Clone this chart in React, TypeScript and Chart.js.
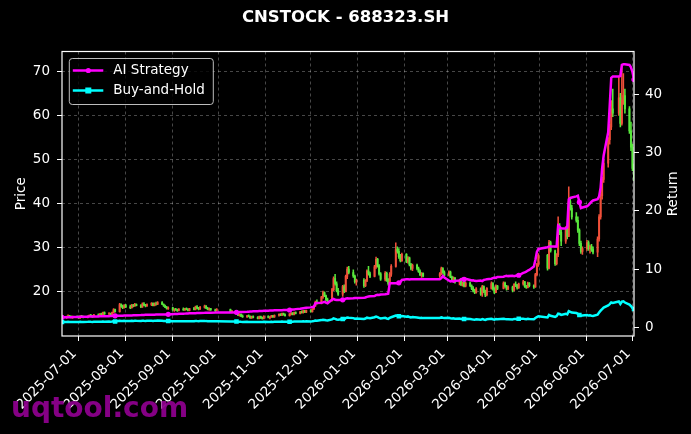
import React, { useEffect, useRef } from "react";
import { Chart, registerables } from "chart.js";

Chart.register(...registerables);

const TITLE = "CNSTOCK - 688323.SH";
const START_DATE = "2025-06-20";
const END_DATE = "2026-07-02";
const HOLIDAYS = [
  "2025-10-01", "2025-10-02", "2025-10-03", "2025-10-06", "2025-10-07", "2025-10-08",
  "2026-01-01", "2026-01-02",
  "2026-02-16", "2026-02-17", "2026-02-18", "2026-02-19", "2026-02-20", "2026-02-23",
  "2026-04-06", "2026-05-01", "2026-05-04", "2026-05-05", "2026-06-19",
];
const MONTH_TICKS = [
  "2025-07-01", "2025-08-01", "2025-09-01", "2025-10-01", "2025-11-01", "2025-12-01",
  "2026-01-01", "2026-02-01", "2026-03-01", "2026-04-01", "2026-05-01", "2026-06-01", "2026-07-01",
];
const PRICE_TICKS = [20, 30, 40, 50, 60, 70];
const RETURN_TICKS = [0, 10, 20, 30, 40];

// daily OHLC, one row per week
const OPEN = [
  14.0,
  14.2, 14.3, 14.6, 14.4, 14.2,
  14.4, 14.3, 14.1, 14.5, 14.4,
  14.2, 14.5, 14.7, 14.5, 14.4,
  14.8, 14.6, 15.0, 14.8, 15.3,
  15.0, 15.1, 14.9, 15.3, 16.0,
  15.5, 17.1, 16.7, 16.4, 16.9,
  16.6, 16.4, 17.0, 16.8, 17.2,
  16.9, 16.6, 17.3, 17.0, 16.8,
  17.1, 17.4, 16.9, 17.3, 17.2,
  17.6, 17.2, 16.8, 16.5, 16.2,
  16.4, 15.9, 16.0, 15.9, 15.8,
  16.1, 15.9, 16.2, 16.0, 15.8,
  16.2, 16.0, 16.6, 16.3, 16.1,
  16.5, 16.8, 16.3, 16.0, 16.2,
  15.9, 15.8,
  16.0, 15.5,
  15.6, 15.1, 14.7, 14.9, 14.5,
  14.3, 14.6, 14.4, 14.1, 14.4,
  14.2, 14.0, 14.4, 14.1, 14.0,
  14.5, 14.2, 14.3, 14.6, 14.3,
  14.7, 14.9, 14.7, 15.1, 14.8,
  14.6, 15.0, 15.2, 14.9, 15.3,
  15.1, 15.5, 15.3, 15.7, 15.4,
  15.8, 15.5, 16.1, 16.8, 17.7,
  17.4, 18.8, 19.8, 19.1, 18.2,
  18.0, 20.5, 23.0, 21.8, 20.3,
  19.5, 21.2, 20.1, 23.5, 25.2,
  24.4, 23.6, 22.3,
  22.6, 21.4, 22.5, 24.7, 24.1,
  23.5, 25.7, 27.4, 25.9, 24.1,
  22.9, 24.2, 22.7, 21.9, 24.0,
  25.8, 29.6, 29.2, 28.0, 27.1,
  28.5, 26.9, 27.7, 26.2, 25.3,
  26.0, 25.3, 24.6, 23.9, 24.2,
  23.6, 24.1, 25.3, 24.4,
  23.8, 24.5, 23.4, 22.6, 23.1,
  22.2, 22.5, 21.7, 22.1, 21.3,
  22.0, 21.4, 20.8, 20.3, 19.9,
  20.7, 19.5, 21.2, 20.1, 19.3,
  20.8, 21.9, 20.7, 19.9, 21.3,
  20.8, 22.0, 21.3, 20.7,
  21.1, 20.4, 21.7, 21.5, 20.9,
  21.8, 22.3, 21.2, 21.0, 22.0,
  21.4, 21.1, 23.9, 26.2,
  28.3, 25.4, 31.2,
  29.3, 26.4, 28.4, 34.5, 33.5,
  31.5, 34.3, 32.6, 40.5, 39.0,
  37.0, 36.2, 34.0, 31.0, 29.2,
  29.8, 31.2, 29.8, 30.3, 29.6,
  29.0, 32.0, 37.0, 41.8, 45.5,
  49.2, 54.5, 57.4, 61.5,
  60.5, 64.0, 58.2, 63.5, 64.5,
  61.5, 56.5, 52.8, 48.0,
];
const HIGH = [
  14.4,
  14.5, 14.8, 14.7, 14.6, 14.5,
  14.6, 14.5, 14.6, 14.7, 14.5,
  14.6, 14.8, 14.9, 14.7, 14.9,
  15.0, 15.1, 15.2, 15.4, 15.5,
  15.3, 15.2, 15.4, 16.2, 16.1,
  17.4, 17.3, 17.0, 17.1, 17.2,
  17.0, 17.2, 17.2, 17.4, 17.3,
  17.1, 17.5, 17.6, 17.2, 17.3,
  17.6, 17.5, 17.5, 17.7, 17.8,
  17.8, 17.3, 17.0, 16.7, 16.6,
  16.5, 16.2, 16.3, 16.1, 16.2,
  16.4, 16.3, 16.4, 16.2, 16.3,
  16.5, 16.8, 16.9, 16.5, 16.7,
  17.0, 16.9, 16.5, 16.4, 16.3,
  16.1, 16.2,
  16.1, 15.8,
  15.7, 15.3, 15.1, 15.0, 14.8,
  14.7, 14.8, 14.6, 14.5, 14.6,
  14.4, 14.5, 14.5, 14.3, 14.6,
  14.6, 14.4, 14.7, 14.7, 14.8,
  15.0, 15.1, 15.2, 15.2, 15.0,
  15.1, 15.3, 15.3, 15.4, 15.5,
  15.6, 15.7, 15.8, 15.8, 15.9,
  16.0, 16.2, 16.9, 17.9, 18.2,
  19.0, 20.2, 20.0, 19.3, 18.6,
  20.8, 23.4, 24.0, 22.3, 20.8,
  21.5, 21.6, 23.8, 25.6, 25.8,
  25.0, 23.8, 22.9,
  23.0, 22.8, 25.0, 25.8, 24.5,
  26.0, 27.9, 27.6, 26.2, 24.4,
  24.6, 24.5, 23.0, 24.4, 26.2,
  31.1, 30.2, 29.8, 28.5, 28.8,
  28.7, 28.0, 27.9, 26.5, 26.3,
  26.3, 25.6, 25.0, 24.4, 24.3,
  24.4, 25.6, 25.5, 24.8,
  24.8, 24.7, 23.6, 23.4, 23.3,
  22.8, 22.7, 22.3, 22.4, 22.3,
  22.3, 21.6, 21.2, 20.6, 21.0,
  20.9, 21.5, 21.4, 20.4, 21.0,
  22.3, 22.1, 21.0, 21.6, 21.5,
  22.3, 22.2, 21.5, 21.4,
  21.3, 21.9, 22.3, 21.7, 22.0,
  22.6, 22.4, 21.5, 22.2, 22.1,
  21.6, 24.2, 26.5, 28.7,
  28.5, 31.7, 31.5,
  29.5, 28.7, 37.0, 35.5, 34.0,
  34.8, 35.0, 43.8, 41.5, 39.6,
  38.0, 37.0, 34.3, 31.5, 30.2,
  31.7, 31.6, 30.6, 30.8, 30.2,
  32.5, 37.5, 42.3, 46.0, 49.8,
  55.0, 58.0, 63.4, 66.0,
  68.7, 65.0, 71.3, 69.5, 66.0,
  62.0, 58.5, 53.5, 49.0,
];
const LOW = [
  13.9,
  14.0, 14.2, 14.3, 14.1, 14.0,
  14.2, 14.0, 14.0, 14.3, 14.1,
  14.1, 14.4, 14.4, 14.2, 14.3,
  14.5, 14.5, 14.7, 14.7, 14.9,
  14.8, 14.7, 14.8, 15.2, 15.4,
  15.4, 16.5, 16.2, 16.3, 16.4,
  16.2, 16.3, 16.6, 16.7, 16.8,
  16.4, 16.5, 16.9, 16.6, 16.7,
  16.9, 16.8, 16.8, 17.0, 17.1,
  17.1, 16.7, 16.4, 16.1, 16.0,
  15.8, 15.6, 15.8, 15.6, 15.7,
  15.8, 15.8, 15.9, 15.7, 15.7,
  15.9, 15.9, 16.2, 15.9, 16.0,
  16.3, 16.2, 15.9, 15.8, 15.8,
  15.6, 15.7,
  15.4, 15.3,
  15.0, 14.6, 14.5, 14.4, 14.2,
  14.2, 14.3, 14.0, 14.0, 14.1,
  13.9, 13.9, 14.0, 13.8, 13.9,
  14.1, 13.9, 14.2, 14.2, 14.2,
  14.5, 14.6, 14.6, 14.7, 14.5,
  14.5, 14.8, 14.8, 14.8, 15.0,
  15.0, 15.2, 15.2, 15.3, 15.3,
  15.4, 15.4, 16.0, 16.7, 17.2,
  17.3, 18.5, 18.9, 18.0, 17.7,
  17.9, 20.3, 21.5, 20.0, 19.2,
  19.0, 19.8, 20.0, 23.0, 24.1,
  23.3, 22.0, 21.5,
  21.0, 21.2, 22.3, 23.8, 23.2,
  23.4, 25.3, 25.6, 23.8, 22.6,
  22.5, 22.4, 21.5, 21.8, 23.5,
  25.6, 28.8, 27.6, 26.8, 26.9,
  26.6, 26.5, 25.9, 25.0, 24.8,
  25.0, 24.4, 23.7, 23.3, 23.4,
  23.3, 23.9, 24.2, 23.6,
  23.6, 23.2, 22.4, 22.3, 22.0,
  21.6, 21.4, 21.3, 21.1, 21.1,
  21.2, 20.5, 20.0, 19.6, 19.7,
  19.2, 19.0, 19.8, 18.9, 19.1,
  20.6, 20.4, 19.6, 19.8, 20.5,
  20.7, 21.0, 20.4, 20.5,
  20.0, 20.2, 21.2, 20.6, 20.8,
  21.5, 21.0, 20.8, 20.9, 21.1,
  20.8, 21.0, 23.6, 25.8,
  24.9, 25.2, 29.0,
  26.0, 26.1, 28.0, 33.0, 30.5,
  31.0, 32.0, 32.5, 38.5, 36.5,
  35.8, 33.5, 30.5, 28.7, 28.5,
  29.4, 29.4, 28.8, 29.2, 28.6,
  28.0, 31.5, 36.5, 41.0, 44.8,
  48.3, 53.5, 56.8, 59.7,
  60.0, 57.4, 57.8, 62.5, 60.5,
  55.9, 52.0, 47.5, 45.2,
];
const CLOSE = [
  14.2,
  14.3, 14.6, 14.4, 14.2, 14.4,
  14.3, 14.1, 14.5, 14.4, 14.2,
  14.5, 14.7, 14.5, 14.4, 14.8,
  14.6, 15.0, 14.8, 15.3, 15.0,
  15.1, 14.9, 15.3, 16.0, 15.5,
  17.1, 16.7, 16.4, 16.9, 16.6,
  16.4, 17.0, 16.8, 17.2, 16.9,
  16.6, 17.3, 17.0, 16.8, 17.1,
  17.4, 16.9, 17.3, 17.2, 17.6,
  17.2, 16.8, 16.5, 16.2, 16.4,
  15.9, 16.0, 15.9, 15.8, 16.1,
  15.9, 16.2, 16.0, 15.8, 16.2,
  16.0, 16.6, 16.3, 16.1, 16.5,
  16.8, 16.3, 16.0, 16.2, 15.9,
  15.8, 16.0,
  15.5, 15.6,
  15.1, 14.7, 14.9, 14.5, 14.3,
  14.6, 14.4, 14.1, 14.4, 14.2,
  14.0, 14.4, 14.1, 14.0, 14.5,
  14.2, 14.3, 14.6, 14.3, 14.7,
  14.9, 14.7, 15.1, 14.8, 14.6,
  15.0, 15.2, 14.9, 15.3, 15.1,
  15.5, 15.3, 15.7, 15.4, 15.8,
  15.5, 16.1, 16.8, 17.7, 17.4,
  18.8, 19.8, 19.1, 18.2, 18.0,
  20.5, 23.0, 21.8, 20.3, 19.5,
  21.2, 20.1, 23.5, 25.2, 24.4,
  23.6, 22.3, 22.6,
  21.4, 22.5, 24.7, 24.1, 23.5,
  25.7, 27.4, 25.9, 24.1, 22.9,
  24.2, 22.7, 21.9, 24.0, 25.8,
  29.6, 29.2, 28.0, 27.1, 28.5,
  26.9, 27.7, 26.2, 25.3, 26.0,
  25.3, 24.6, 23.9, 24.2, 23.6,
  24.1, 25.3, 24.4, 23.8,
  24.5, 23.4, 22.6, 23.1, 22.2,
  22.5, 21.7, 22.1, 21.3, 22.0,
  21.4, 20.8, 20.3, 19.9, 20.7,
  19.5, 21.2, 20.1, 19.3, 20.8,
  21.9, 20.7, 19.9, 21.3, 20.8,
  22.0, 21.3, 20.7, 21.1,
  20.4, 21.7, 21.5, 20.9, 21.8,
  22.3, 21.2, 21.0, 22.0, 21.4,
  21.1, 23.9, 26.2, 28.3,
  25.4, 31.2, 29.3,
  26.4, 28.4, 34.5, 33.5, 31.5,
  34.3, 32.6, 40.5, 39.0, 37.0,
  36.2, 34.0, 31.0, 29.2, 29.8,
  31.2, 29.8, 30.3, 29.6, 29.0,
  32.0, 37.0, 41.8, 45.5, 49.2,
  54.5, 57.4, 61.5, 60.5,
  64.0, 58.2, 63.5, 64.5, 61.5,
  56.5, 52.8, 48.0, 45.8,
];
// AI strategy equity curve (right axis)
const AI_STRATEGY = [
  1.80,
  1.80, 1.82, 1.82, 1.83, 1.85,
  1.85, 1.86, 1.88, 1.88, 1.90,
  1.90, 1.92, 1.93, 1.93, 1.95,
  1.95, 1.97, 1.98, 2.00, 2.00,
  2.00, 2.02, 2.03, 2.05, 2.05,
  2.07, 2.08, 2.08, 2.10, 2.10,
  2.12, 2.13, 2.15, 2.15, 2.17,
  2.18, 2.20, 2.20, 2.22, 2.23,
  2.24, 2.25, 2.25, 2.27, 2.28,
  2.28, 2.29, 2.30, 2.30, 2.31,
  2.33, 2.35, 2.37, 2.38, 2.40,
  2.42, 2.43, 2.45, 2.46, 2.48,
  2.49, 2.50, 2.52, 2.53, 2.55,
  2.56, 2.57, 2.58, 2.59, 2.60,
  2.61, 2.62,
  2.63, 2.64,
  2.65, 2.67, 2.69, 2.70, 2.72,
  2.74, 2.76, 2.78, 2.80, 2.82,
  2.84, 2.86, 2.88, 2.90, 2.92,
  2.93, 2.95, 2.96, 2.98, 2.99,
  3.00, 3.01, 3.02, 3.03, 3.04,
  3.05, 3.08, 3.12, 3.15, 3.20,
  3.25, 3.30, 3.35, 3.40, 3.45,
  3.50, 3.55, 3.60, 4.20, 4.25,
  4.30, 4.35, 4.45, 4.30, 4.20,
  4.85, 4.95, 4.80, 4.75, 4.78,
  4.80, 4.85, 5.00, 5.05, 5.02,
  5.05, 5.10, 5.12,
  5.15, 5.20, 5.30, 5.35, 5.40,
  5.45, 5.60, 5.65, 5.62, 5.70,
  5.75, 5.80, 5.85, 7.60, 7.65,
  7.65, 7.60, 7.70, 7.85, 8.20,
  8.30, 8.30, 8.28, 8.30, 8.30,
  8.30, 8.32, 8.30, 8.30, 8.32,
  8.30, 8.50, 8.87, 8.60,
  8.10, 7.95, 8.00, 7.90, 8.05,
  8.10, 8.35, 8.40, 8.30, 8.40,
  8.20, 8.10, 8.15, 8.05, 8.00,
  8.10, 8.00, 8.20, 8.25, 8.30,
  8.40, 8.50, 8.60, 8.55, 8.70,
  8.75, 8.85, 8.90, 8.85,
  8.90, 8.85, 8.90, 8.95, 9.00,
  9.40, 9.50, 9.60, 9.80, 9.90,
  10.5, 11.6, 13.0, 13.5,
  13.8, 13.9, 13.9,
  13.9, 13.9, 17.5, 17.3, 17.0,
  17.0, 17.2, 22.0, 22.2, 22.3,
  22.5, 22.6, 21.5, 20.5, 20.6,
  20.8, 21.0, 21.3, 21.6, 21.8,
  22.0, 22.5, 24.0, 27.3, 29.5,
  33.5, 38.0, 42.8, 43.0,
  43.0, 43.1, 45.0, 45.1, 45.1,
  45.0, 44.6, 43.8, 42.5,
];

const FONT = "'DejaVu Sans', sans-serif";
const DAY_MS = 86400000;
const ORIGIN = Date.UTC(2025, 6, 1);
const toDay = (iso: string) => {
  const [y, m, d] = iso.split("-").map(Number);
  return (Date.UTC(y, m - 1, d) - ORIGIN) / DAY_MS;
};

function tradingDays(): number[] {
  const hol = new Set(HOLIDAYS);
  const out: number[] = [];
  const s = ORIGIN + toDay(START_DATE) * DAY_MS;
  const e = ORIGIN + toDay(END_DATE) * DAY_MS;
  for (let t = s; t <= e; t += DAY_MS) {
    const d = new Date(t);
    const wd = d.getUTCDay();
    if (wd === 0 || wd === 6) continue;
    if (hol.has(d.toISOString().slice(0, 10))) continue;
    out.push((t - ORIGIN) / DAY_MS);
  }
  return out;
}

const GREEN = "#58e83c";
const RED = "#f0503a";
const GRID = "rgba(255,255,255,0.28)";

const decorPlugin = {
  id: "decor",
  afterDraw(chart: any) {
    const { ctx, chartArea: a } = chart;
    ctx.save();
    ctx.strokeStyle = "#ffffff";
    ctx.lineWidth = 1.2;
    ctx.strokeRect(a.left, a.top, a.right - a.left, a.bottom - a.top);

    ctx.fillStyle = "#ffffff";
    ctx.textAlign = "center";
    ctx.textBaseline = "middle";
    ctx.font = `bold 16.5px ${FONT}`;
    ctx.fillText(TITLE, chart.width / 2, 18);

    ctx.font = `13.5px ${FONT}`;
    const cy = (a.top + a.bottom) / 2;
    ctx.save();
    ctx.translate(21.5, cy);
    ctx.rotate(-Math.PI / 2);
    ctx.fillText("Price", 0, 0);
    ctx.restore();
    ctx.save();
    ctx.translate(673, cy);
    ctx.rotate(-Math.PI / 2);
    ctx.fillText("Return", 0, 0);
    ctx.restore();

    // legend
    const lx = a.left + 7.3, ly = a.top + 7, lw = 144, lh = 46, r = 3;
    ctx.beginPath();
    ctx.moveTo(lx + r, ly);
    ctx.lineTo(lx + lw - r, ly);
    ctx.quadraticCurveTo(lx + lw, ly, lx + lw, ly + r);
    ctx.lineTo(lx + lw, ly + lh - r);
    ctx.quadraticCurveTo(lx + lw, ly + lh, lx + lw - r, ly + lh);
    ctx.lineTo(lx + r, ly + lh);
    ctx.quadraticCurveTo(lx, ly + lh, lx, ly + lh - r);
    ctx.lineTo(lx, ly + r);
    ctx.quadraticCurveTo(lx, ly, lx + r, ly);
    ctx.closePath();
    ctx.fillStyle = "rgba(0,0,0,0.8)";
    ctx.fill();
    ctx.strokeStyle = "rgba(210,210,210,0.9)";
    ctx.lineWidth = 1;
    ctx.stroke();
    const items = [
      { label: "AI Strategy", color: "#ff00ff", rect: false },
      { label: "Buy-and-Hold", color: "#00ffff", rect: true },
    ];
    items.forEach((it, i) => {
      const y = ly + 12 + i * 20;
      ctx.strokeStyle = it.color;
      ctx.lineWidth = 2.5;
      ctx.beginPath();
      ctx.moveTo(lx + 3.5, y);
      ctx.lineTo(lx + 34, y);
      ctx.stroke();
      ctx.fillStyle = it.color;
      if (it.rect) {
        ctx.fillRect(lx + 19 - 3, y - 3, 6, 6);
      } else {
        ctx.beginPath();
        ctx.arc(lx + 19, y, 2.6, 0, Math.PI * 2);
        ctx.fill();
      }
      ctx.fillStyle = "#ffffff";
      ctx.textAlign = "left";
      ctx.textBaseline = "middle";
      ctx.font = `13.5px ${FONT}`;
      ctx.fillText(it.label, lx + 44, y);
    });

    // watermark
    ctx.font = `bold 28px ${FONT}`;
    ctx.textAlign = "left";
    ctx.textBaseline = "alphabetic";
    ctx.fillStyle = "rgba(140,0,140,0.95)";
    ctx.fillText("uqtool.com", 11, 417);
    ctx.restore();
  },
};

export default function App() {
  const ref = useRef<HTMLCanvasElement>(null);
  useEffect(() => {
    const days = tradingDays();
    const n = Math.min(days.length, OPEN.length, HIGH.length, LOW.length, CLOSE.length, AI_STRATEGY.length);
    const idx = Array.from({ length: n }, (_, i) => i);
    const colors = idx.map((i) => (CLOSE[i] >= OPEN[i] ? RED : GREEN));
    const wicks = idx.map((i) => ({ x: days[i], y: [LOW[i], HIGH[i]] }));
    const bodies = idx.map((i) => ({ x: days[i], y: [Math.min(OPEN[i], CLOSE[i]), Math.max(OPEN[i], CLOSE[i])] }));
    const ai = idx.map((i) => ({ x: days[i], y: AI_STRATEGY[i] }));
    const bh = idx.map((i) => ({ x: days[i], y: CLOSE[i] / CLOSE[0] }));
    const monthLabel = new Map(MONTH_TICKS.map((s) => [toDay(s), s]));
    const markerRadius = (r: number) => (c: any) => (c.dataIndex % 25 === 0 ? r : 0);

    const chart = new Chart(ref.current as HTMLCanvasElement, {
      type: "bar",
      data: {
        datasets: [
          {
            type: "line",
            label: "AI Strategy",
            data: ai as any,
            yAxisID: "y2",
            borderColor: "#ff00ff",
            backgroundColor: "#ff00ff",
            borderWidth: 2.5,
            pointRadius: markerRadius(2.6) as any,
            pointStyle: "circle",
            pointBorderWidth: 0,
            tension: 0,
            order: 1,
          },
          {
            type: "line",
            label: "Buy-and-Hold",
            data: bh as any,
            yAxisID: "y2",
            borderColor: "#00ffff",
            backgroundColor: "#00ffff",
            borderWidth: 2.5,
            pointRadius: markerRadius(3.2) as any,
            pointStyle: "rect",
            pointBorderWidth: 0,
            tension: 0,
            order: 0,
          },
          {
            type: "bar",
            label: "wick",
            data: wicks as any,
            yAxisID: "y",
            backgroundColor: colors,
            borderWidth: 0,
            barThickness: 0.9,
            grouped: false,
            order: 3,
          },
          {
            type: "bar",
            label: "body",
            data: bodies as any,
            yAxisID: "y",
            backgroundColor: colors,
            borderWidth: 0,
            barThickness: 1.3,
            grouped: false,
            order: 2,
          },
        ],
      },
      options: {
        responsive: false,
        animation: false,
        events: [],
        layout: { padding: { top: 51.5, left: 0, right: 0, bottom: 0 } },
        plugins: { legend: { display: false }, tooltip: { enabled: false }, title: { display: false } },
        scales: {
          x: {
            type: "linear",
            offset: false,
            min: toDay(START_DATE),
            max: toDay(END_DATE),
            afterBuildTicks: (s: any) => {
              s.ticks = MONTH_TICKS.map((m) => ({ value: toDay(m) }));
            },
            afterFit: (s: any) => {
              s.height = 434 - 336;
            },
            ticks: {
              autoSkip: false,
              minRotation: 45,
              maxRotation: 45,
              color: "#ffffff",
              font: { family: FONT, size: 13.5 },
              padding: 5,
              labelOffset: -4,
              callback: (v: any) => monthLabel.get(Number(v)) ?? "",
            },
            grid: { color: GRID, offset: false, tickColor: "#ffffff", tickLength: 5, tickWidth: 1 },
            border: { display: false, dash: [3, 3] },
          },
          y: {
            type: "linear",
            position: "left",
            min: 10.0,
            max: 74.5,
            afterBuildTicks: (s: any) => {
              s.ticks = PRICE_TICKS.map((v) => ({ value: v }));
            },
            afterFit: (s: any) => {
              s.width = 62;
            },
            ticks: { color: "#ffffff", font: { family: FONT, size: 13.5 }, padding: 7 },
            grid: { color: GRID, tickColor: "#ffffff", tickLength: 5, tickWidth: 1 },
            border: { display: false, dash: [3, 3] },
          },
          y2: {
            type: "linear",
            position: "right",
            min: -1.4,
            max: 47.3,
            afterBuildTicks: (s: any) => {
              s.ticks = RETURN_TICKS.map((v) => ({ value: v }));
            },
            afterFit: (s: any) => {
              s.width = 691 - 634;
            },
            ticks: { color: "#ffffff", font: { family: FONT, size: 13.5 }, padding: 6 },
            grid: { drawOnChartArea: false, tickColor: "#ffffff", tickLength: 5, tickWidth: 1 },
            border: { display: false },
          },
        },
      } as any,
      plugins: [decorPlugin],
    });
    return () => chart.destroy();
  }, []);

  return (
    <div style={{ position: "fixed", left: 0, top: 0, width: 691, height: 434, background: "#000000" }}>
      <canvas ref={ref} width={691} height={434} style={{ display: "block", width: 691, height: 434 }} />
    </div>
  );
}
